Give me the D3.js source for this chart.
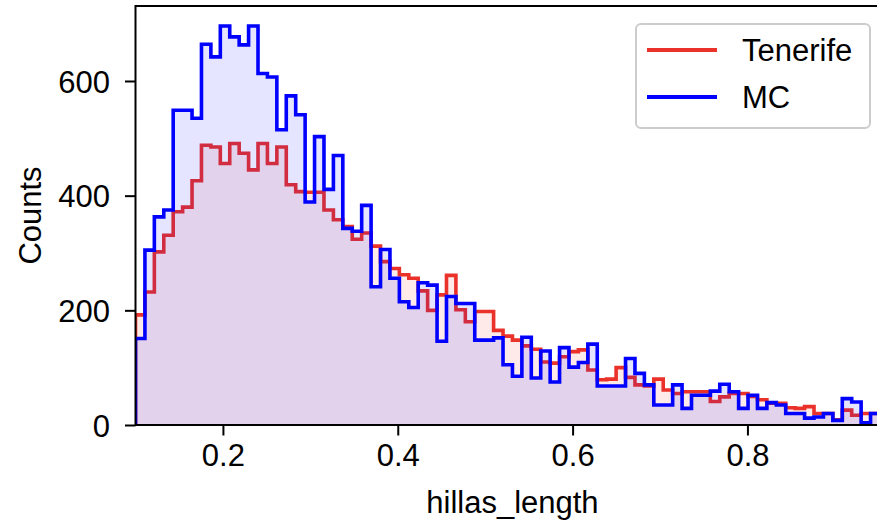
<!DOCTYPE html>
<html>
<head>
<meta charset="utf-8">
<script src="https://cdn.jsdelivr.net/npm/d3@7"></script>
<style>
html, body { margin: 0; padding: 0; background: #ffffff; }
svg { display: block; }
text { font-family: "Liberation Sans", Arial, Helvetica, sans-serif; fill: #000; }
</style>
</head>
<body>
<svg id="chart" width="877" height="523"></svg>
<script>
// ---------------- data ----------------
const binStart = 0.1;
const binWidth = 0.01078;

const seriesNames = ["Tenerife", "MC"];

const tenerifeCounts = [
  192, 232, 302, 331, 372, 380, 426, 488, 485, 456,
  491, 474, 445, 491, 456, 485, 419, 407, 406, 406,
  375, 358, 346, 324, 335, 312, 285, 273, 262, 256,
  234, 200, 227, 261, 201, 180, 198, 198, 165, 155,
  148, 138, 132, 110, 108, 119, 128, 131, 96, 79,
  80, 100, 83, 70, 68, 80, 61, 55, 58, 58,
  58, 41, 49, 55, 55, 50, 44, 38, 38, 30,
  29, 32, 20, 20, 9, 26, 17, 20, 20, 18
];

const mcCounts = [
  151, 305, 363, 375, 549, 549, 535, 664, 642, 696,
  677, 663, 696, 613, 607, 515, 574, 541, 389, 503,
  411, 470, 343, 338, 383, 241, 306, 256, 215, 205,
  248, 244, 146, 224, 212, 212, 148, 148, 152, 105,
  85, 153, 82, 129, 75, 135, 101, 109, 141, 68,
  68, 68, 116, 90, 70, 35, 35, 70, 29, 52,
  52, 59, 71, 58, 29, 52, 29, 39, 35, 20,
  20, 12, 14, 20, 8, 46, 40, 4, 20, 15
];

const xTickValues = [0.2, 0.4, 0.6, 0.8];
const xTickLabels = ["0.2", "0.4", "0.6", "0.8"];
const yTickValues = [0, 200, 400, 600];
const yTickLabels = ["0", "200", "400", "600"];
const xLabel = "hillas_length";
const yLabel = "Counts";

// ---------------- layout ----------------
const plot = { left: 135.5, top: 6, right: 889.4, bottom: 425 };
const colors = { tenerife: "#ea322b", mc: "#0000ff" };
const fontSize = 31;

const svg = d3.select("#chart");
const edges = d3.range(mcCounts.length + 1).map(i => binStart + i * binWidth);

const x = d3.scaleLinear()
  .domain([edges[0], edges[edges.length - 1]])
  .range([plot.left, plot.right]);
const yMax = 1.05 * d3.max([d3.max(mcCounts), d3.max(tenerifeCounts)]);
const y = d3.scaleLinear()
  .domain([0, yMax])
  .range([plot.bottom, plot.top]);

svg.append("defs").append("clipPath").attr("id", "plotclip")
  .append("rect")
  .attr("x", plot.left).attr("y", plot.top)
  .attr("width", plot.right - plot.left)
  .attr("height", plot.bottom - plot.top);

function stepPoints(counts) {
  const pts = counts.map((c, i) => [edges[i], c]);
  pts.push([edges[counts.length], counts[counts.length - 1]]);
  return pts;
}
function outlinePoints(counts) {
  const pts = [[edges[0], 0]].concat(stepPoints(counts));
  pts.push([edges[counts.length], 0]);
  return pts;
}

const area = d3.area()
  .curve(d3.curveStepAfter)
  .x(d => x(d[0]))
  .y0(y(0))
  .y1(d => y(d[1]));
const line = d3.line()
  .curve(d3.curveStepAfter)
  .x(d => x(d[0]))
  .y(d => y(d[1]));

const g = svg.append("g").attr("clip-path", "url(#plotclip)");

// Tenerife fill + outline
g.append("path").attr("d", area(stepPoints(tenerifeCounts)))
  .attr("fill", colors.tenerife).attr("fill-opacity", 0.1);
g.append("path").attr("d", line(outlinePoints(tenerifeCounts)))
  .attr("fill", "none").attr("stroke", colors.tenerife)
  .attr("stroke-width", 3.6).attr("stroke-linejoin", "miter");
// MC fill + outline
g.append("path").attr("d", area(stepPoints(mcCounts)))
  .attr("fill", colors.mc).attr("fill-opacity", 0.1);
g.append("path").attr("d", line(outlinePoints(mcCounts)))
  .attr("fill", "none").attr("stroke", colors.mc)
  .attr("stroke-width", 3.6).attr("stroke-linejoin", "miter");

// ---------------- axes ----------------
const xAxis = d3.axisBottom(x)
  .tickValues(xTickValues)
  .tickFormat((d, i) => xTickLabels[i])
  .tickSize(10.5).tickPadding(8);
const xg = svg.append("g").attr("transform", `translate(0,${plot.bottom})`).call(xAxis);
xg.select(".domain").remove();
xg.selectAll(".tick line").attr("stroke", "#000").attr("stroke-width", 2);
xg.selectAll(".tick text")
  .attr("font-size", fontSize)
  .attr("font-family", '"Liberation Sans", Arial, Helvetica, sans-serif')
  .attr("fill", "#000")
  .attr("dy", "0.72em");

const yAxis = d3.axisLeft(y)
  .tickValues(yTickValues)
  .tickFormat((d, i) => yTickLabels[i])
  .tickSize(10.5).tickPadding(15);
const yg = svg.append("g").attr("transform", `translate(${plot.left},0)`).call(yAxis);
yg.select(".domain").remove();
yg.selectAll(".tick line").attr("stroke", "#000").attr("stroke-width", 2);
yg.selectAll(".tick text")
  .attr("font-size", fontSize)
  .attr("font-family", '"Liberation Sans", Arial, Helvetica, sans-serif')
  .attr("fill", "#000")
  .attr("dy", "0.36em");

// spines
svg.append("rect")
  .attr("x", plot.left).attr("y", plot.top)
  .attr("width", plot.right - plot.left).attr("height", plot.bottom - plot.top)
  .attr("fill", "none").attr("stroke", "#000").attr("stroke-width", 2);

// axis labels
svg.append("text")
  .attr("x", (plot.left + plot.right) / 2).attr("y", 513)
  .attr("text-anchor", "middle").attr("font-size", fontSize)
  .text(xLabel);
svg.append("text")
  .attr("transform", `translate(40.5,${(plot.top + plot.bottom) / 2}) rotate(-90)`)
  .attr("text-anchor", "middle").attr("font-size", fontSize)
  .text(yLabel);

// ---------------- legend ----------------
const lg = svg.append("g");
lg.append("rect")
  .attr("x", 636).attr("y", 24).attr("width", 234).attr("height", 104)
  .attr("rx", 5).attr("ry", 5)
  .attr("fill", "#ffffff").attr("fill-opacity", 0.8)
  .attr("stroke", "#cccccc").attr("stroke-width", 2);
const legendItems = [
  { name: seriesNames[0], color: colors.tenerife, cy: 50 },
  { name: seriesNames[1], color: colors.mc, cy: 97 }
];
legendItems.forEach(it => {
  lg.append("line")
    .attr("x1", 647).attr("x2", 717).attr("y1", it.cy).attr("y2", it.cy)
    .attr("stroke", it.color).attr("stroke-width", 3.8);
  lg.append("text")
    .attr("x", 742).attr("y", it.cy).attr("dy", "0.36em")
    .attr("font-size", fontSize)
    .text(it.name);
});
</script>
</body>
</html>
